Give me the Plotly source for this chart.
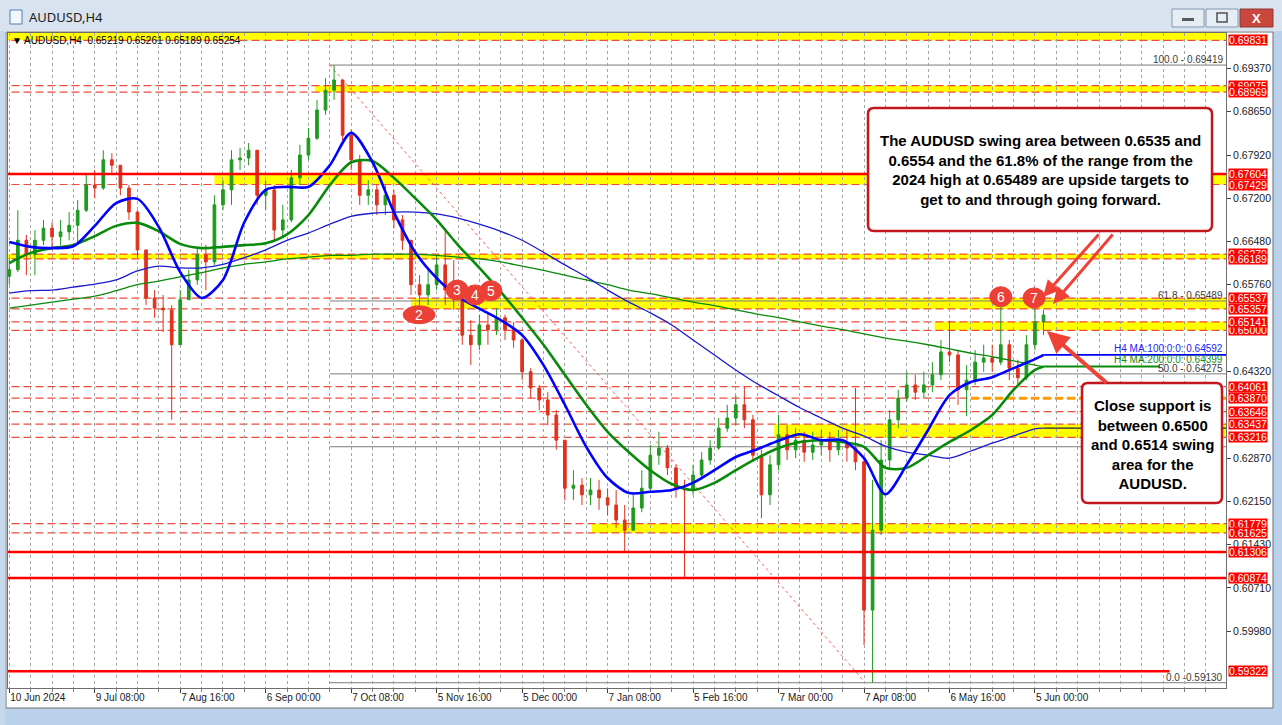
import plotly.graph_objects as go

# ------------------------------------------------------------------
# DATA
# ------------------------------------------------------------------
x_tick_days = [0, 20, 40, 60, 80, 100, 120, 140, 160, 180, 200, 220, 240]
x_tick_text = ["10 Jun 2024", "9 Jul 08:00", "7 Aug 16:00", "6 Sep 00:00", "7 Oct 08:00",
               "5 Nov 16:00", "5 Dec 00:00", "7 Jan 08:00", "5 Feb 16:00", "7 Mar 00:00",
               "7 Apr 08:00", "6 May 16:00", "5 Jun 00:00"]
y_tick_vals = [0.69370, 0.68650, 0.67920, 0.67200, 0.66480, 0.65760, 0.64320,
               0.62870, 0.62150, 0.61430, 0.60710, 0.59980]

# AUDUSD price bars (each bar = 2 trading days)
open_first = 0.6590
close = [
    0.6601, 0.6650, 0.6626, 0.6650, 0.6670, 0.6656, 0.6664, 0.6675, 0.6700, 0.6742,
    0.6737, 0.6784, 0.6775, 0.6737, 0.6697, 0.6634, 0.6554, 0.6537, 0.6534, 0.6476,
    0.6551, 0.6584, 0.6626, 0.6614, 0.6709, 0.6734, 0.6784, 0.6787, 0.6800, 0.6725,
    0.6734, 0.6667, 0.6684, 0.6754, 0.6792, 0.6820, 0.6867, 0.6900, 0.6917, 0.6825,
    0.6784, 0.6725, 0.6734, 0.6709, 0.6725, 0.6684, 0.6650, 0.6576, 0.6559, 0.6576,
    0.6609, 0.6567, 0.6551, 0.6492, 0.6476, 0.6509, 0.6501, 0.6521, 0.6501, 0.6484,
    0.6431, 0.6404, 0.6384, 0.6359, 0.6317, 0.6237, 0.6242, 0.6226, 0.6234, 0.6221,
    0.6209, 0.6184, 0.6167, 0.6204, 0.6237, 0.6292, 0.6304, 0.6271, 0.6237, 0.6234,
    0.6259, 0.6284, 0.6304, 0.6337, 0.6354, 0.6376, 0.6351, 0.6292, 0.6226, 0.6276,
    0.6326, 0.6301, 0.6317, 0.6297, 0.6309, 0.6317, 0.6301, 0.6314, 0.6304, 0.6281,
    0.6034, 0.6167, 0.6284, 0.6351, 0.6387, 0.6409, 0.6397, 0.6409, 0.6426, 0.6464,
    0.6459, 0.6401, 0.6417, 0.6447, 0.6454, 0.6447, 0.6476, 0.6437, 0.6421, 0.6476,
    0.6514, 0.65254]
high = [
    0.6621, 0.6700, 0.6659, 0.6667, 0.6684, 0.6680, 0.6684, 0.6697, 0.6717, 0.6759,
    0.6767, 0.6800, 0.6795, 0.6775, 0.6742, 0.6700, 0.6634, 0.6567, 0.6559, 0.6542,
    0.6567, 0.6601, 0.6637, 0.6642, 0.6725, 0.6750, 0.6800, 0.6804, 0.6812, 0.6800,
    0.6750, 0.6742, 0.6709, 0.6767, 0.6809, 0.6837, 0.6884, 0.6920, 0.6942, 0.6917,
    0.6834, 0.6792, 0.6750, 0.6742, 0.6742, 0.6734, 0.6692, 0.6650, 0.6592, 0.6601,
    0.6626, 0.6670, 0.6617, 0.6559, 0.6517, 0.6526, 0.6531, 0.6537, 0.6526, 0.6514,
    0.6487, 0.6437, 0.6409, 0.6397, 0.6367, 0.6317, 0.6267, 0.6254, 0.6254, 0.6251,
    0.6237, 0.6234, 0.6209, 0.6226, 0.6267, 0.6309, 0.6331, 0.6309, 0.6276, 0.6251,
    0.6276, 0.6297, 0.6317, 0.6354, 0.6376, 0.6392, 0.6407, 0.6359, 0.6301, 0.6292,
    0.6359, 0.6342, 0.6337, 0.6331, 0.6331, 0.6334, 0.6331, 0.6334, 0.6334, 0.6404,
    0.6290, 0.6251, 0.6317, 0.6367, 0.6401, 0.6431, 0.6426, 0.6431, 0.6447, 0.6484,
    0.6516, 0.6467, 0.6442, 0.6467, 0.6476, 0.6476, 0.6539, 0.6484, 0.6451, 0.6492,
    0.6537, 0.6534]
low = [
    0.6576, 0.6597, 0.6592, 0.6592, 0.6642, 0.6637, 0.6642, 0.6650, 0.6642, 0.6697,
    0.6720, 0.6734, 0.6759, 0.6725, 0.6684, 0.6621, 0.6542, 0.6521, 0.6497, 0.6351,
    0.6476, 0.6551, 0.6576, 0.6567, 0.6609, 0.6700, 0.6709, 0.6767, 0.6775, 0.6709,
    0.6700, 0.6650, 0.6654, 0.6680, 0.6742, 0.6784, 0.6817, 0.6859, 0.6884, 0.6817,
    0.6767, 0.6709, 0.6709, 0.6692, 0.6692, 0.6670, 0.6634, 0.6559, 0.6542, 0.6542,
    0.6567, 0.6542, 0.6534, 0.6476, 0.6442, 0.6467, 0.6476, 0.6492, 0.6484, 0.6471,
    0.6417, 0.6387, 0.6367, 0.6342, 0.6301, 0.6217, 0.6217, 0.6209, 0.6209, 0.6201,
    0.6192, 0.6171, 0.6131, 0.6167, 0.6197, 0.6234, 0.6276, 0.6259, 0.6221, 0.6087,
    0.6226, 0.6251, 0.6276, 0.6301, 0.6331, 0.6342, 0.6337, 0.6281, 0.6187, 0.6209,
    0.6267, 0.6284, 0.6287, 0.6281, 0.6284, 0.6292, 0.6281, 0.6292, 0.6281, 0.6267,
    0.5976, 0.5913, 0.6159, 0.6267, 0.6337, 0.6381, 0.6384, 0.6387, 0.6397, 0.6417,
    0.6447, 0.6376, 0.6357, 0.6409, 0.6431, 0.6431, 0.6442, 0.6417, 0.6407, 0.6417,
    0.6467, 0.6492]
bar_day = list(range(0, 2 * len(close), 2))
opens = [open_first] + close[:-1]

# moving averages (read at every 5th trading day)
ma_day = list(range(0, 241, 5)) + [242]
ma100_h4 = [
    0.6647, 0.6639, 0.6637, 0.6640, 0.6674, 0.6712, 0.6719, 0.6672, 0.6597, 0.6554,
    0.6584, 0.6680, 0.6734, 0.6739, 0.6739, 0.6775, 0.6829, 0.6780, 0.6697, 0.6630,
    0.6587, 0.6556, 0.6536, 0.6517, 0.6492, 0.6442, 0.6376, 0.6306, 0.6254, 0.6229,
    0.6231, 0.6234, 0.6246, 0.6267, 0.6289, 0.6302, 0.6316, 0.6327, 0.6317, 0.6317,
    0.6287, 0.6227, 0.6276, 0.6334, 0.6392, 0.6414, 0.6422, 0.6437, 0.6452, 0.64592]
ma200_h4 = [
    0.6612, 0.6629, 0.6637, 0.6642, 0.6657, 0.6674, 0.6679, 0.6665, 0.6644, 0.6637,
    0.6639, 0.6642, 0.6645, 0.6660, 0.6692, 0.6742, 0.6780, 0.6782, 0.6754, 0.6720,
    0.6684, 0.6642, 0.6604, 0.6564, 0.6521, 0.6476, 0.6426, 0.6376, 0.6331, 0.6297,
    0.6267, 0.6244, 0.6234, 0.6246, 0.6267, 0.6287, 0.6304, 0.6314, 0.6317, 0.6314,
    0.6306, 0.6271, 0.6271, 0.6292, 0.6314, 0.6334, 0.6359, 0.6401, 0.6434, 0.64399]
ma_slow_blue = [
    0.6562, 0.6566, 0.6567, 0.6572, 0.6577, 0.6584, 0.6599, 0.6607, 0.6604, 0.6604,
    0.6610, 0.6621, 0.6634, 0.6650, 0.6662, 0.6677, 0.6690, 0.6695, 0.6697, 0.6697,
    0.6694, 0.6687, 0.6677, 0.6665, 0.6650, 0.6630, 0.6609, 0.6589, 0.6567, 0.6547,
    0.6529, 0.6509, 0.6484, 0.6459, 0.6434, 0.6411, 0.6391, 0.6371, 0.6354, 0.6337,
    0.6324, 0.6307, 0.6297, 0.6292, 0.6287, 0.6299, 0.6312, 0.6324, 0.6336, 0.6337]
ma_slow_green = [
    0.6537, 0.6542, 0.6547, 0.6552, 0.6557, 0.6566, 0.6576, 0.6582, 0.6589, 0.6596,
    0.6604, 0.6610, 0.6614, 0.6619, 0.6622, 0.6625, 0.6625, 0.6627, 0.6627, 0.6627,
    0.6625, 0.6622, 0.6619, 0.6614, 0.6607, 0.6600, 0.6592, 0.6584, 0.6576, 0.6567,
    0.6561, 0.6554, 0.6547, 0.6541, 0.6534, 0.6527, 0.6521, 0.6514, 0.6507, 0.6501,
    0.6494, 0.6487, 0.6482, 0.6476, 0.6469, 0.6462, 0.6456, 0.6449, 0.6442, 0.6439]

# horizontal levels
level_labels = [0.69831, 0.69075, 0.68969, 0.67604, 0.67429, 0.66270, 0.66189,
                0.65537, 0.65357, 0.65000, 0.65141, 0.64061, 0.63870, 0.63646,
                0.63437, 0.63216, 0.61779, 0.61625, 0.61306, 0.60874, 0.59322]
solid_levels = [0.67604, 0.61306, 0.60874, 0.59322]
solid_end_day = [None, None, None, 271.5]
dashed_levels = [0.69831, 0.69075, 0.68969, 0.67429, 0.66270, 0.66189, 0.65537,
                 0.65357, 0.65141, 0.65000, 0.64061, 0.63870, 0.63646, 0.63437,
                 0.63216, 0.61779, 0.61625]
zone_low = [0.69831, 0.68969, 0.67429, 0.66189, 0.65357, 0.65000, 0.63216, 0.61625]
zone_high = [0.70000, 0.69075, 0.67604, 0.66270, 0.65537, 0.65141, 0.63437, 0.61779]
zone_start_day = [-1, 71.5, 48.0, -1, 94.0, 216.5, 179.0, 136.3]
orange_level, orange_start_day = 0.63870, 225.0

fib_prices = [0.69419, 0.65489, 0.64275, 0.63061, 0.59130]
fib_texts = ["100.0 - 0.69419", "61.8 - 0.65489", "50.0 - 0.64275", "", "0.0 -0.59130"]
fib_start_day, fib_end_day = 75.0, 200.3

swing_tag = ["2", "3", "4", "5", "6", "7"]
swing_day = [95.9, 104.8, 109.0, 112.7, 232.0, 239.8]
swing_price = [0.6526, 0.6567, 0.6559, 0.6566, 0.6556, 0.6554]

header_text = "▼ AUDUSD,H4  0.65219 0.65261 0.65189 0.65254"
ma_labels = ["H4 MA:100:0:0: 0.64592", "H4 MA:200:0:0: 0.64399"]
note_top = ("The AUDUSD swing area between 0.6535 and<br>0.6554 and the 61.8% of the range from the<br>"
            "2024 high at 0.65489 are upside targets to<br>get to and through going forward.")
note_bottom = "Close support is<br>between 0.6500<br>and 0.6514 swing<br>area for the<br>AUDUSD."

# ------------------------------------------------------------------
# LAYOUT CONSTANTS / STYLES
# ------------------------------------------------------------------
W, H = 1282, 725
PL, PR, PT, PB = 8, 1226, 33, 688
X_RANGE = [-0.3, 284.7]
Y_RANGE = [0.59042, 0.69953]
FONT = "Liberation Sans"
UP, DOWN = "#1f9a1f", "#e0321e"
RED = "#ff0000"
ARROW = "#ef4136"
GRID = "#a4a4a4"


def px2x(px):
    return (px - PL) / (PR - PL)


def py2y(py):
    return (PB - py) / (PB - PT)


def day_at_px(px):
    return X_RANGE[0] + (px - PL) / (PR - PL) * (X_RANGE[1] - X_RANGE[0])


def rrect_path(x0, y0, x1, y1, r):
    P = lambda a, b: f"{px2x(a):.5f},{py2y(b):.5f}"
    return (f"M {P(x0 + r, y0)} L {P(x1 - r, y0)} Q {P(x1, y0)} {P(x1, y0 + r)} "
            f"L {P(x1, y1 - r)} Q {P(x1, y1)} {P(x1 - r, y1)} L {P(x0 + r, y1)} "
            f"Q {P(x0, y1)} {P(x0, y1 - r)} L {P(x0, y0 + r)} Q {P(x0, y0)} {P(x0 + r, y0)} Z")


def prect(x0, y0, x1, y1, fill, line=None, lw=0, layer="above"):
    return dict(type="rect", xref="paper", yref="paper", x0=px2x(x0), x1=px2x(x1),
                y0=py2y(y1), y1=py2y(y0), fillcolor=fill, layer=layer,
                line=dict(color=line or fill, width=lw))


def ptext(text, px, py, size, color, xa="center", ya="middle", family=FONT, **kw):
    return dict(text=text, x=px2x(px), y=py2y(py), xref="paper", yref="paper",
                xanchor=xa, yanchor=ya, showarrow=False,
                font=dict(family=family, size=size, color=color), **kw)


fig = go.Figure()

fig.add_trace(go.Candlestick(
    x=bar_day, open=opens, high=high, low=low, close=close,
    increasing=dict(line=dict(color=UP, width=1), fillcolor=UP),
    decreasing=dict(line=dict(color=DOWN, width=1), fillcolor=DOWN),
    whiskerwidth=0, showlegend=False, hoverinfo="skip"))

for vals, color, width in [(ma_slow_green, "#0a8a0a", 1.3), (ma_slow_blue, "#1a1ad0", 1.3),
                           (ma200_h4, "#0a8a0a", 2.6), (ma100_h4, "#0000ff", 2.6)]:
    fig.add_trace(go.Scatter(x=ma_day, y=vals, mode="lines", showlegend=False,
                             line=dict(color=color, width=width, shape="spline", smoothing=0.8),
                             hoverinfo="skip"))

shapes = []
for lo, hi, sd in zip(zone_low, zone_high, zone_start_day):
    shapes.append(dict(type="rect", xref="x", yref="y", x0=sd, x1=X_RANGE[1] + 5, y0=lo, y1=hi,
                       fillcolor="#ffff00", line=dict(width=0), layer="below"))
for lv in dashed_levels:
    shapes.append(dict(type="line", xref="x", yref="y", x0=X_RANGE[0] - 2, x1=X_RANGE[1] + 5,
                       y0=lv, y1=lv, line=dict(color="#f24a3a", width=1.2, dash="8px,4px"),
                       layer="below"))
shapes.append(dict(type="line", xref="x", yref="y", x0=orange_start_day, x1=X_RANGE[1] + 5,
                   y0=orange_level, y1=orange_level,
                   line=dict(color="#ff9c00", width=3, dash="8px,4px"), layer="below"))
for fp in fib_prices:
    shapes.append(dict(type="line", xref="x", yref="y", x0=fib_start_day, x1=X_RANGE[1] + 5,
                       y0=fp, y1=fp, line=dict(color="#7d7d7d", width=1), layer="below"))
shapes.append(dict(type="line", xref="x", yref="y", x0=fib_start_day, x1=fib_end_day,
                   y0=fib_prices[0], y1=fib_prices[-1],
                   line=dict(color="#ff6060", width=1, dash="dot"), layer="below"))
for lv, ed in zip(solid_levels, solid_end_day):
    shapes.append(dict(type="line", xref="x", yref="y", x0=X_RANGE[0] - 2,
                       x1=ed if ed is not None else X_RANGE[1] + 5,
                       y0=lv, y1=lv, line=dict(color=RED, width=2.5), layer="above"))
shapes.append(dict(type="line", xref="x", yref="y", x0=ma_day[-1], x1=X_RANGE[1] + 5,
                   y0=ma100_h4[-1], y1=ma100_h4[-1], line=dict(color="#0000ff", width=1.6)))
shapes.append(dict(type="line", xref="x", yref="y", x0=ma_day[-1], x1=day_at_px(1160),
                   y0=ma200_h4[-1], y1=ma200_h4[-1], line=dict(color="#0a8a0a", width=2)))
shapes.append(dict(type="line", xref="x", yref="y", x0=ma_day[-1], x1=X_RANGE[1] + 5,
                   y0=ma_slow_blue[-1], y1=ma_slow_blue[-1], line=dict(color="#202040", width=1.2)))

for i, (d, p) in enumerate(zip(swing_day, swing_price)):
    hw, hh = (16, 9) if i == 0 else (11, 10)
    shapes.append(dict(type="circle", xref="x", yref="y", xsizemode="pixel", ysizemode="pixel",
                       xanchor=d, yanchor=p, x0=-hw, x1=hw, y0=-hh, y1=hh,
                       fillcolor="#ec3f35", line=dict(color="#ec3f35", width=1), layer="above"))

shapes.append(dict(type="path", xref="paper", yref="paper", path=rrect_path(868, 108, 1212, 231, 6),
                   fillcolor="white", line=dict(color="#c3171c", width=2.5), layer="above"))
shapes.append(dict(type="path", xref="paper", yref="paper", path=rrect_path(1082, 383, 1222, 503, 6),
                   fillcolor="white", line=dict(color="#c3171c", width=2.5), layer="above"))

shapes += [
    prect(0, 0, 1282, 31, "#d8e3ef"),
    prect(0, 708, 1282, 725, "#b9d1ea"),
    prect(1273, 31, 1282, 725, "#b9d1ea"),
    prect(0, 31, 5, 725, "#c6d8ec"),
    dict(type="rect", xref="paper", yref="paper", x0=px2x(6), x1=px2x(1273), y0=py2y(708),
         y1=py2y(32), line=dict(color="#6e6e6e", width=1), layer="above"),
    prect(1172, 9, 1204, 27, "#e6edf5", "#8496ad", 1),
    prect(1206, 9, 1238, 27, "#e6edf5", "#8496ad", 1),
    prect(1240, 9, 1273, 27, "#c9473d", "#8a3b36", 1),
    prect(1182, 18, 1194, 21, "#5a5a5a"),
    prect(1217, 13, 1227, 22, "#e6edf5", "#505050", 1.5),
    prect(10, 10, 22, 24, "#f3f6fb", "#4f7cb3", 1),
]

ann = []
ann.append(ptext("AUDUSD,H4", 27, 17, 13, "#1b1b1b", xa="left", family="Noto Sans"))
ann.append(ptext("<b>X</b>", 1256.5, 18, 13, "white"))
ann.append(ptext(header_text, 10, 40, 10, "#000000", xa="left"))
for fp, ft in zip(fib_prices, fib_texts):
    if ft:
        ann.append(dict(text=ft, x=px2x(1225), y=fp, xref="paper", yref="y", xanchor="right",
                        yanchor="bottom", showarrow=False, yshift=-2,
                        font=dict(family=FONT, size=10, color="#3c3c3c")))
ann.append(ptext(ma_labels[0], 1225, 348, 10, "#2222ff", xa="right"))
ann.append(ptext(ma_labels[1], 1225, 359, 10, "#108a10", xa="right"))
for lv in level_labels:
    ann.append(dict(text=f"{lv:.5f}", x=px2x(1228), y=lv, xref="paper", yref="y",
                    xanchor="left", yanchor="middle", showarrow=False, bgcolor=RED,
                    borderpad=0, height=10, font=dict(family=FONT, size=10.5, color="white")))
for t, d, p in zip(swing_tag, swing_day, swing_price):
    ann.append(dict(text=t, x=d, y=p, xref="x", yref="y", showarrow=False,
                    xanchor="center", yanchor="middle",
                    font=dict(family=FONT, size=14, color="white")))
ann.append(ptext(f"<b>{note_top}</b>", 1040, 170, 15, "#000000", align="center"))
ann.append(ptext(f"<b>{note_bottom}</b>", 1152, 444, 15, "#000000", align="center"))
for tx, ty, hx, hy, w in [(1100, 233, 1043, 297, 3), (1114, 233, 1053, 304, 3),
                          (1108, 384, 1047, 331, 4)]:
    ann.append(dict(text="", x=px2x(hx), y=py2y(hy), xref="paper", yref="paper",
                    ax=tx - hx, ay=ty - hy, axref="pixel", ayref="pixel", showarrow=True,
                    arrowhead=2, arrowsize=1.1, arrowwidth=w, arrowcolor=ARROW, standoff=0))

fig.update_layout(
    width=W, height=H,
    margin=dict(l=PL, r=W - PR, t=PT, b=H - PB, pad=0),
    paper_bgcolor="white", plot_bgcolor="white", boxgap=0.55,
    showlegend=False, shapes=shapes, annotations=ann,
    font=dict(family=FONT, size=10, color="#1a1a1a"),
    xaxis=dict(range=X_RANGE, rangeslider=dict(visible=False), tickmode="array",
               tickvals=x_tick_days, ticktext=x_tick_text, ticks="outside", ticklen=4,
               tickcolor="#404040", ticklabelposition="outside right",
               showgrid=True, gridcolor=GRID, griddash="dot", gridwidth=1,
               minor=dict(tickmode="linear", tick0=0, dtick=5, showgrid=True,
                          gridcolor=GRID, griddash="dot", gridwidth=1,
                          ticks="outside", ticklen=3, tickcolor="#808080"),
               showline=True, linecolor="#6e6e6e", mirror=True, zeroline=False,
               tickfont=dict(family=FONT, size=10, color="#1a1a1a"), fixedrange=True),
    yaxis=dict(range=Y_RANGE, side="right", tickmode="array", tickvals=y_tick_vals,
               tickformat=".5f", ticks="outside", ticklen=4, tickcolor="#404040",
               showgrid=False, zeroline=False, showline=True, linecolor="#6e6e6e",
               mirror=True, tickfont=dict(family=FONT, size=10.5, color="#1a1a1a"),
               fixedrange=True),
)

fig.write_html("out.html", config={"displayModeBar": False},
               post_script="document.body.style.margin='0px';document.body.style.overflow='hidden';")
